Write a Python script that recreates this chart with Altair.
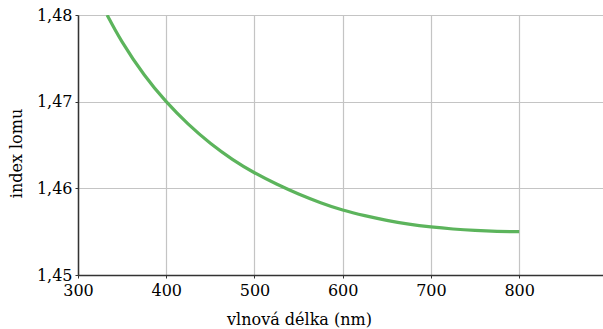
import altair as alt
import pandas as pd

wavelength = [333, 350, 375, 400, 425, 450, 475, 500, 525, 550, 575, 600, 625, 650, 675, 700, 725, 750, 775, 800]
index_n = [1.48000, 1.47690, 1.47310, 1.47000, 1.46740, 1.46520, 1.46335, 1.46180, 1.46050, 1.45935,
           1.45835, 1.45750, 1.45685, 1.45631, 1.45587, 1.45555, 1.45531, 1.45514, 1.45504, 1.45500]
x_ticks = [300, 400, 500, 600, 700, 800]
y_ticks = [1.45, 1.46, 1.47, 1.48]

df = pd.DataFrame({"wl": wavelength, "n": index_n})

FONT = "DejaVu Serif"

chart = alt.Chart(df).mark_line(
    color="#5cb45c", strokeWidth=3.2, interpolate="natural", clip=True
).encode(
    x=alt.X("wl:Q", scale=alt.Scale(domain=[300, 895], nice=False, zero=False),
            axis=alt.Axis(values=x_ticks, title="vlnová délka (nm)",
                          labelFont=FONT, labelFontSize=16, labelColor="#000",
                          titleFont=FONT, titleFontSize=16, titleColor="#000",
                          titleFontWeight="normal", labelFlush=False,
                          labelPadding=4, tickSize=3,
                          tickColor="#333", domainColor="#333", domainWidth=1.5,
                          gridColor="#c4c4c4", gridWidth=1.2,
                          titleX=221, titleY=49, titleAlign="center",
                          titleBaseline="alphabetic", titleAnchor="start")),
    y=alt.Y("n:Q", scale=alt.Scale(domain=[1.45, 1.48], nice=False, zero=False),
            axis=alt.Axis(values=y_ticks, title="index lomu",
                          labelExpr="replace(format(datum.value, '.2f'), '.', ',')",
                          labelFont=FONT, labelFontSize=16, labelColor="#000",
                          titleFont=FONT, titleFontSize=16, titleColor="#000",
                          titleFontWeight="normal",
                          labelPadding=3, tickSize=3,
                          tickColor="#333", domainColor="#333", domainWidth=1.5,
                          gridColor="#c4c4c4", gridWidth=1.2,
                          titleX=-57, titleY=138, titleAngle=-90,
                          titleAlign="center", titleBaseline="alphabetic")),
).properties(
    width=525, height=260,
    autosize=alt.AutoSizeParams(type="none"),
    padding={"left": 78, "top": 15, "right": 0, "bottom": 54},
).configure_view(stroke=None).configure(background="white")

chart.save("out.html", embed_options={"renderer": "svg", "actions": False})
